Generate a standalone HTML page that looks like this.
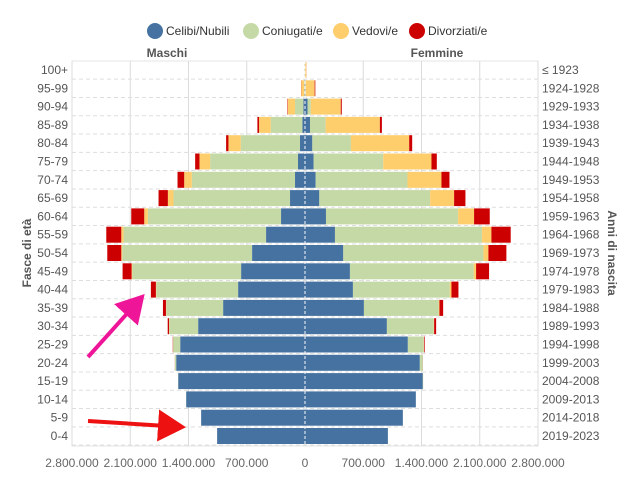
<!DOCTYPE html>
<html><head><meta charset="utf-8"><style>
body{margin:0;background:#fff;font-family:"Liberation Sans",sans-serif}
svg text{font-family:"Liberation Sans",sans-serif}
</style></head><body>
<svg id="c" width="632" height="479">
<defs>
<marker id="mh" markerWidth="8" markerHeight="8" refX="6" refY="4" orient="auto" markerUnits="strokeWidth"><path d="M0,0 L7,4 L0,8 z" fill="#ee1599"/></marker>
<marker id="rh" markerWidth="8" markerHeight="8" refX="6" refY="4" orient="auto" markerUnits="strokeWidth"><path d="M0,0 L7,4 L0,8 z" fill="#ee1111"/></marker>
</defs>
<g id="legend"></g>
<text x="167" y="57" text-anchor="middle" font-size="12" font-weight="bold" fill="#555">Maschi</text>
<text x="437" y="57" text-anchor="middle" font-size="12" font-weight="bold" fill="#555">Femmine</text>
<text transform="translate(31,253) rotate(-90)" text-anchor="middle" font-size="12" font-weight="bold" fill="#555">Fasce di età</text>
<text transform="translate(608,253) rotate(90)" text-anchor="middle" font-size="12" font-weight="bold" fill="#555">Anni di nascita</text>
<g id="grid"></g><g id="bars"></g><g id="labels"></g>
<line x1="88" y1="357" x2="142" y2="297" stroke="#ee1599" stroke-width="4" marker-end="url(#mh)"/>
<line x1="88" y1="421" x2="182" y2="427" stroke="#ee1111" stroke-width="4" marker-end="url(#rh)"/>
</svg>
<script>
const ages=["0-4","5-9","10-14","15-19","20-24","25-29","30-34","35-39","40-44","45-49","50-54","55-59","60-64","65-69","70-74","75-79","80-84","85-89","90-94","95-99","100+"];
const births=["2019-2023","2014-2018","2009-2013","2004-2008","1999-2003","1994-1998","1989-1993","1984-1988","1979-1983","1974-1978","1969-1973","1964-1968","1959-1963","1954-1958","1949-1953","1944-1948","1939-1943","1934-1938","1929-1933","1924-1928","≤ 1923"];
const mSingle=[1056,1248,1428,1524,1548,1500,1284,984,804,768,636,468,288,180,120,84,60,32,20,4,1];
const mMarried=[0,0,1,2,16,84,348,684,984,1308,1560,1712,1600,1400,1240,1056,712,380,100,6,1];
const mWidowed=[0,0,0,0,0,1,2,3,4,8,12,28,44,68,92,128,148,140,88,36,2];
const mDivorced=[0,0,0,0,1,4,16,36,60,108,168,180,156,112,80,52,28,20,5,2,0];
const fSingle=[996,1176,1332,1416,1380,1236,984,708,576,540,460,360,252,172,128,104,88,60,30,3,1];
const fMarried=[0,0,0,4,36,192,564,900,1164,1488,1684,1768,1588,1332,1104,836,464,188,40,5,1];
const fWidowed=[0,0,0,0,0,2,4,8,20,28,60,112,192,288,408,580,700,652,360,108,14];
const fDivorced=[0,0,0,0,1,8,24,44,84,156,216,232,188,136,96,64,36,24,12,8,1];
const ticks=[-2800,-2100,-1400,-700,0,700,1400,2100,2800];
const tickLabels=["2.800.000","2.100.000","1.400.000","700.000","0","700.000","1.400.000","2.100.000","2.800.000"];
const cols=["#4672a1","#c5d9a6","#fecd6c","#cc0000"];
const names=["Celibi/Nubili","Coniugati/e","Vedovi/e","Divorziati/e"];
const NS="http://www.w3.org/2000/svg";
const cx=305, k=233/2800;
const X=v=>cx+v*k;
const Y=i=>436-i*18.3;
function el(t,a,p){const e=document.createElementNS(NS,t);for(const q in a)e.setAttribute(q,a[q]);p.appendChild(e);return e;}
const grid=document.getElementById('grid'),bars=document.getElementById('bars'),lab=document.getElementById('labels'),leg=document.getElementById('legend');
// legend
const lx=[146,242,332,408];
names.forEach((n,i)=>{
 const c=el('circle',{cx:lx[i]+9,cy:31,r:8,fill:cols[i]},leg);
 
 
 const t=el('text',{x:lx[i]+20,y:35,'font-size':12,fill:'#333'},leg);t.textContent=n;
 
 
});
// grid
el('rect',{x:72,y:61,width:466,height:385,fill:'none',stroke:'#e6e6e6'},grid);
ticks.forEach((t,i)=>{
 const x=X(t);
 const g=el('line',{x1:x,x2:x,y1:61,y2:446,stroke:'#dcdcdc'},grid);
 
 
 const tx=el('text',{x:x,y:467,'text-anchor':'middle','font-size':12,fill:'#666'},lab);tx.textContent=tickLabels[i];
 
 
});
ages.forEach((a,i)=>{
 const y=Y(i);
 el('line',{x1:72,x2:538,y1:y+9.15,y2:y+9.15,stroke:'#ddd','stroke-dasharray':'4,3'},grid);
 const t=el('text',{x:68,y:y+4,'text-anchor':'end','font-size':12,fill:'#555'},lab);t.textContent=a;
 
 
 const t2=el('text',{x:542,y:y+4,'font-size':12,fill:'#555'},lab);t2.textContent=births[i];
 
 
 const ms=[mSingle[i],mMarried[i],mWidowed[i],mDivorced[i]];
 const fs=[fSingle[i],fMarried[i],fWidowed[i],fDivorced[i]];
 let acc=0;
 ms.forEach((v,j)=>{const r=el('rect',{x:X(-(acc+v)),y:y-8,width:v*k,height:16,fill:cols[j]},bars);acc+=v;
  
  });
 acc=0;
 fs.forEach((v,j)=>{const r=el('rect',{x:X(acc),y:y-8,width:v*k,height:16,fill:cols[j]},bars);acc+=v;
  
  });
});
el('line',{x1:cx,x2:cx,y1:61,y2:446,stroke:'#fff','stroke-dasharray':'3,2','stroke-width':1.2,opacity:0.8},bars);
</script>
</body></html>
